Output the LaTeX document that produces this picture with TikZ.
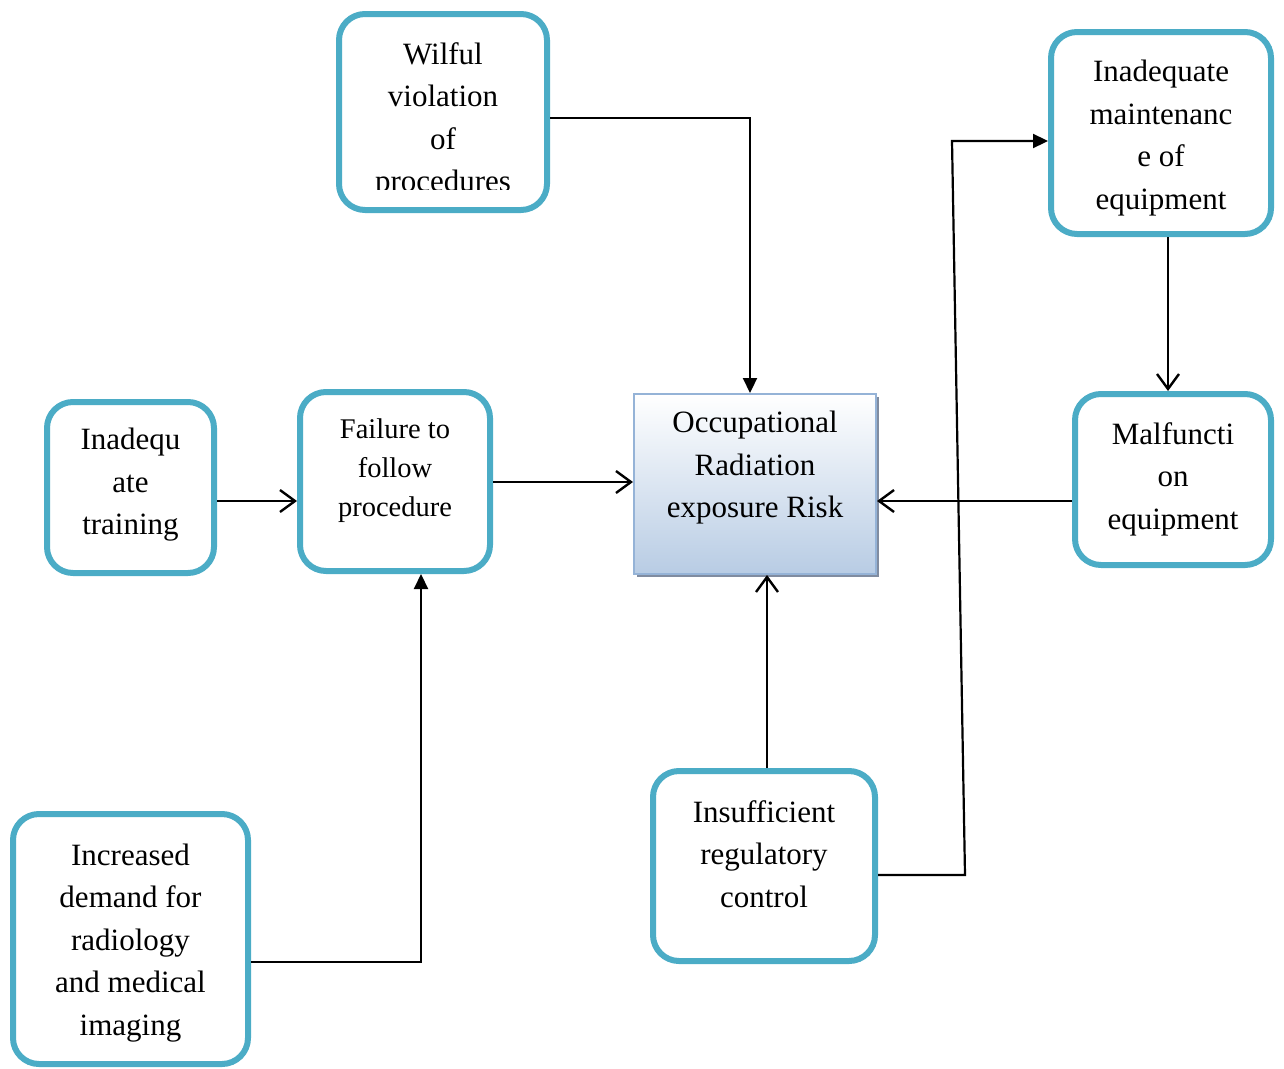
\documentclass[tikz,border=0pt]{standalone}
\usepackage{fontspec}
\setmainfont{Liberation Serif}
\usetikzlibrary{arrows.meta,calc,shadows}
\definecolor{boxblue}{RGB}{75,172,198}
\definecolor{cenborder}{RGB}{149,179,215}
\definecolor{cenbottom}{RGB}{184,204,228}
\definecolor{censhadow}{RGB}{128,140,160}
\tikzset{
 box/.style={draw=boxblue, line width=6pt, rounded corners=26pt, inner sep=0pt, fill=white},
 txt/.style={align=center, font=\fontsize{31}{42.5}\selectfont, inner sep=0pt},
 smalltxt/.style={align=center, font=\fontsize{28.5}{39}\selectfont, inner sep=0pt},
 conn/.style={line width=2.2pt, draw=black},
 openarrow/.style={conn, -{Straight Barb[length=15pt,width=22pt,line width=2.4pt]}},
 filledarrow/.style={conn, -{Triangle[length=15pt,width=14pt]}},
}
\begin{document}
\begin{tikzpicture}[x=1pt,y=-1pt]
\useasboundingbox (0,0) rectangle (1284,1068);
% boxes
\node[box, minimum width=208pt, minimum height=196pt] (wil) at (443,112) {};
\node[box, minimum width=220pt, minimum height=202pt] (maint) at (1161,133) {};
\node[box, minimum width=167pt, minimum height=171pt] (train) at (130.5,487.5) {};
\node[box, minimum width=190pt, minimum height=179pt] (fail) at (395,481.5) {};
\node[box, minimum width=196pt, minimum height=171pt] (malf) at (1173,479.5) {};
\node[box, minimum width=235pt, minimum height=250pt] (dem) at (130.5,939) {};
\node[box, minimum width=222pt, minimum height=190pt] (ins) at (764,866) {};
\node[draw=cenborder, line width=2pt, top color=white, bottom color=cenbottom,
      drop shadow={shadow xshift=3pt, shadow yshift=-3pt, fill=censhadow, opacity=1},
      minimum width=242pt, minimum height=180pt, inner sep=0pt] (cen) at (755,484) {};
% connectors
\draw[filledarrow] ([yshift=-6pt]wil.east) -| ([xshift=-5pt]cen.north);
\draw[openarrow] ([yshift=-13.5pt]train.east) -- ([yshift=-19.5pt]fail.west);
\coordinate (f1) at ([yshift=-0.5pt]fail.east);
\draw[openarrow] (f1) -- (f1 -| cen.west);
\draw[filledarrow] ([yshift=-23pt]dem.east) -| ([xshift=26pt]fail.south);
\coordinate (i1) at ([xshift=3pt]ins.north);
\draw[openarrow] (i1) -- (i1 |- cen.south);
\coordinate (m1) at ([yshift=-21.5pt]malf.west);
\draw[openarrow] (m1) -- (m1 -| cen.east);
\coordinate (a7) at ([xshift=7pt]maint.south);
\draw[openarrow] (a7) -- (a7 |- malf.north);
\coordinate (b1) at ([yshift=-9pt]ins.east);
\coordinate (b2) at (965,875);
\coordinate (b3) at (952,141);
\draw[filledarrow] (b1) -- (b2) -- (b3) -- (b3 -| maint.west);
% texts
\begin{scope}
\clip (339,14) rectangle (547,189);
\node[txt] (wilt) at (443,120.5) {Wilful\\violation\\of\\procedures};
\end{scope}
\node[txt] (maintt) at (1161,138) {Inadequate\\maintenanc\\e of\\equipment};
\node[txt] (traint) at (130.5,485) {Inadequ\\ate\\training};
\node[smalltxt] (failt) at (395,471) {Failure to\\follow\\procedure};
\node[txt] (cent) at (755,468) {Occupational\\Radiation\\exposure Risk};
\node[txt] (malft) at (1173,479) {Malfuncti\\on\\equipment};
\node[txt] (demt) at (130.5,943) {Increased\\demand for\\radiology\\and medical\\imaging};
\node[txt] (inst) at (764,854) {Insufficient\\regulatory\\control};
\end{tikzpicture}
\end{document}
